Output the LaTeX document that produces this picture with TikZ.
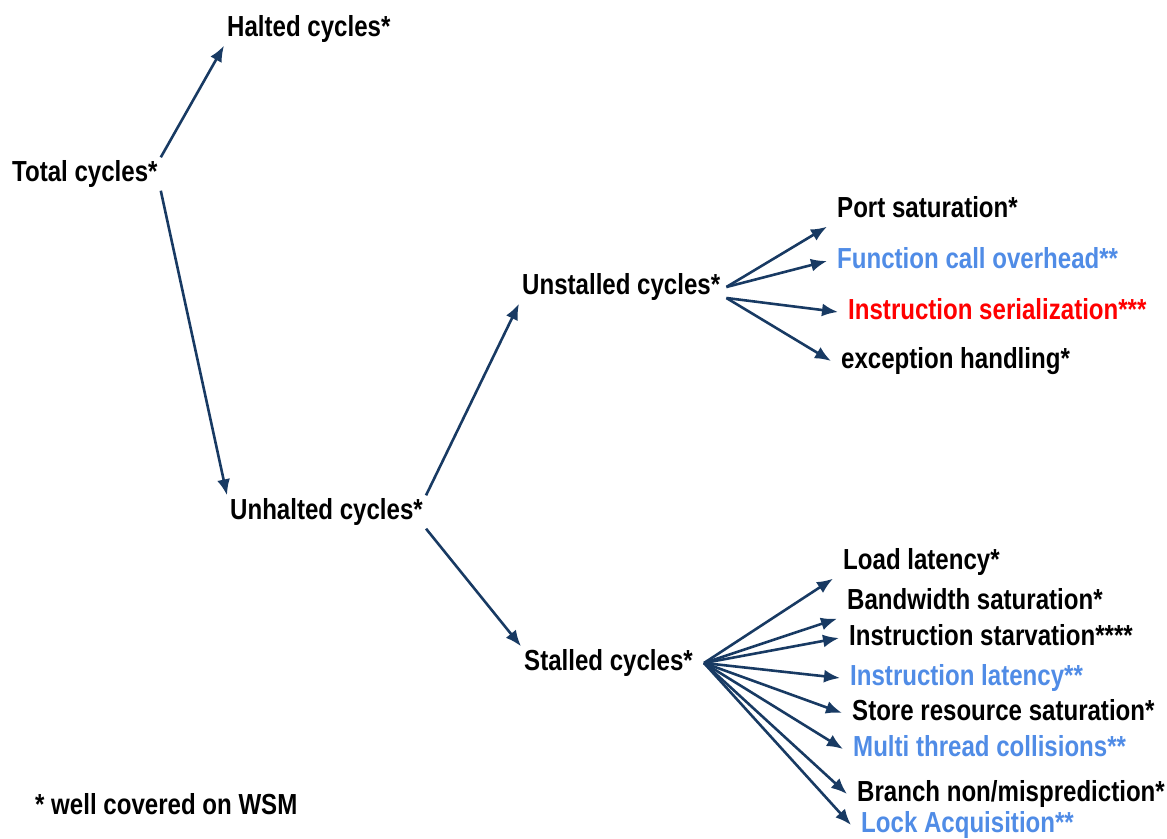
\documentclass[tikz,border=0pt]{standalone}
\usepackage{fontspec}
\usepackage{tikz}
\usetikzlibrary{arrows.meta}
\newfontfamily\lblfamily{Liberation Sans}[FakeStretch=0.83]
\definecolor{arrowblue}{RGB}{24,58,99}
\definecolor{lightblue}{RGB}{80,140,230}
\tikzset{
  lbl/.style={font=\lblfamily\bfseries\fontsize{29}{31}\selectfont, anchor=west,
    inner xsep=3pt, inner ysep=3pt, text height=21pt, text depth=6pt},
  leaf/.style={lbl, inner xsep=10pt},
  arr/.style={->, draw=arrowblue, line width=2.6pt},
}
\begin{document}
\begin{tikzpicture}[x=1pt,y=-1pt,>={Latex[length=16pt,width=13pt]}]
\useasboundingbox (0,0) rectangle (1167,838);
% main tree
\node[lbl] (total)     at (9,174)   {Total cycles*};
\node[lbl] (halted)    at (224,29)  {Halted cycles*};
\node[lbl] (unhalted)  at (227,512) {Unhalted cycles*};
\node[lbl] (unstalled) at (519,287) {Unstalled cycles*};
\node[lbl] (stalled)   at (521,663) {Stalled cycles*};
% unstalled causes
\node[leaf] (port) at (827,210) {Port saturation*};
\node[leaf,text=lightblue] (func) at (827,261) {Function call overhead**};
\node[leaf,text=red] (serial) at (838,312) {Instruction serialization***};
\node[leaf] (except) at (831,361) {exception handling*};
% stalled causes
\node[leaf] (load)   at (833,562) {Load latency*};
\node[leaf] (bw)     at (837,602) {Bandwidth saturation*};
\node[leaf] (starv)  at (839,638) {Instruction starvation****};
\node[leaf,text=lightblue] (instlat) at (840,678) {Instruction latency**};
\node[leaf] (store)  at (842,713) {Store resource saturation*};
\node[leaf,text=lightblue] (multi) at (843,749) {Multi thread collisions**};
\node[leaf] (branch) at (847,794) {Branch non/misprediction*};
\node[leaf,text=lightblue] (lock) at (851,825) {Lock Acquisition**};
% legend
\node[lbl] (note) at (32,807) {* well covered on WSM};

\draw[arr] (total.north east) -- (halted.south west);
\draw[arr] (total.south east) -- (unhalted.north west);
\draw[arr] (unhalted.north east) -- (unstalled.south west);
\draw[arr] (unhalted.south east) -- (stalled.north west);

\draw[arr] ([xshift=3pt]unstalled.east) -- (port.south west);
\draw[arr] ([xshift=3pt]unstalled.east) -- (func.west);
\draw[arr] ([xshift=3pt,yshift=-11pt]unstalled.east) -- (serial.west);
\draw[arr] ([xshift=3pt,yshift=-11pt]unstalled.east) -- (except.west);

\foreach \leaf/\anc in {load/south west,bw/south west,starv/west,instlat/west,
    store/west,multi/west,branch/west,lock/west}
  \draw[arr] ([xshift=8pt]stalled.east) -- (\leaf.\anc);
\end{tikzpicture}
\end{document}
